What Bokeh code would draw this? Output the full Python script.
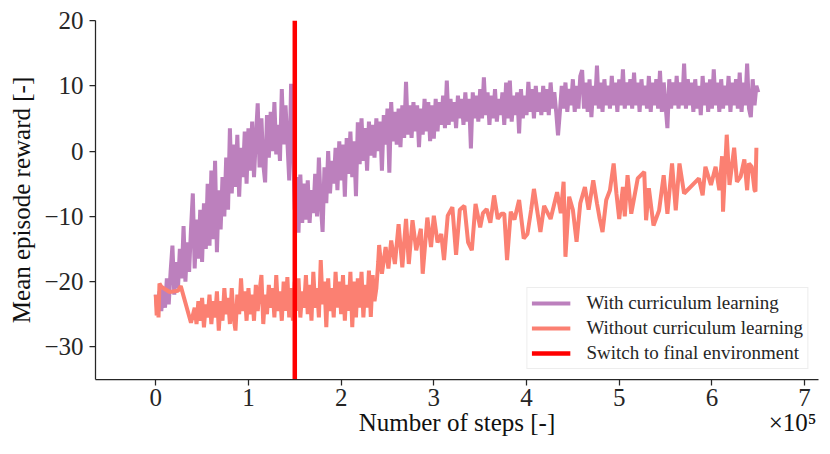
import numpy as np
from bokeh.plotting import figure
from bokeh.models import Range1d, FixedTicker, Legend, LegendItem, LinearAxis
from bokeh.embed import file_html
from bokeh.resources import INLINE

# ---------------- data (x in units of 10^5 steps) ----------------
with_interval = 0.02
with_reward = [
    -22.0, -25.0, -21.5, -24.5, -21.0, -24.0, -19.5, -23.5, -18.5, -14.5,
    -22.0, -17.0, -21.0, -15.0, -19.5, -11.5, -20.0, -14.0, -18.5, -12.0,
    -6.5, -18.0, -10.5, -16.5, -9.0, -17.0, -8.0, -15.0, -5.0, -14.5,
    -3.0, -13.5, -1.5, -15.5, -6.0, -12.0, -4.0, -10.0, -1.0, -9.0,
    3.5, -6.5, 1.0, -5.5, 2.5, -7.0, 0.5, -4.0, 3.0, -5.0,
    3.5, -3.0, 4.5, -4.0, 2.0, 7.3, -2.5, 5.0, -2.0, -4.8,
    5.5, -1.0, 6.0, 0.0, 7.5, -0.5, 4.0, -1.5, 9.5, 1.0,
    7.0, 1.5, -4.5, 10.3, 2.0, -9.0, -4.0, -12.5, -3.6, -11.0,
    -5.0, -10.5, -4.5, -11.0, -6.0, -9.5, -3.5, -10.0, -1.0, -8.0,
    -12.4, -2.5, -8.0, 0.0, -6.5, -1.5, -5.0, 0.5, -6.0, 1.5,
    -4.5, 1.0, -7.0, 2.0, -3.5, 3.0, -4.0, 1.5, -6.9, 4.4,
    -2.0, 5.0, -1.5, 3.5, -3.0, 4.5, -0.7, 4.0, -1.0, 5.0,
    0.0, 4.5, -3.0, 5.5, 1.0, 6.5, -3.3, 7.5, 1.5, 6.0,
    1.0, 6.5, 0.6, 7.0, 2.0, 10.6, 2.5, 7.0, 2.0, 7.5,
    3.0, 7.0, 0.6, 6.5, 2.5, 8.0, 3.0, 7.5, 1.5, 7.0,
    1.9, 8.0, 3.0, 7.5, 4.0, 8.5, 3.5, 10.8, 4.0, 8.0,
    4.5, 7.5, 3.5, 8.5, 5.0, 8.0, 4.0, 9.0, 4.5, 8.0,
    0.4, 9.0, 5.0, 8.5, 4.5, 9.5, 5.0, 11.3, 5.5, 9.0,
    4.0, 8.5, 5.0, 9.5, 4.5, 8.0, 5.5, 9.0, 4.0, 10.5,
    5.0, 10.8, 4.5, 8.5, 5.5, 9.0, 2.7, 9.5, 5.0, 8.5,
    5.5, 10.6, 6.0, 9.5, 5.0, 10.0, 6.0, 9.0, 5.5, 10.0,
    6.0, 9.5, 5.5, 10.5, 6.5, 9.0, 6.0, 2.4, 6.0, 10.0,
    6.5, 10.5, 6.0, 9.5, 7.0, 11.0, 6.0, 10.0, 6.5, 11.5,
    12.4, 6.5, 10.5, 6.0, 11.0, 5.2, 10.0, 7.0, 13.1, 6.5,
    10.5, 6.0, 11.0, 7.0, 10.0, 6.5, 11.5, 7.0, 10.5, 6.0,
    11.0, 7.0, 12.5, 6.5, 10.5, 7.0, 11.0, 6.5, 12.0, 7.0,
    10.5, 6.0, 11.0, 7.0, 10.0, 6.5, 11.5, 6.0, 10.5, 7.0,
    11.0, 6.5, 12.3, 6.0, 10.5, 7.0, 3.5, 11.0, 6.5, 10.5,
    7.0, 11.5, 6.5, 10.5, 7.0, 13.4, 6.5, 11.0, 7.0, 10.5,
    6.0, 11.0, 6.5, 10.0, 5.5, 11.5, 7.0, 10.5, 6.0, 11.0,
    6.5, 12.5, 7.0, 10.5, 6.0, 11.0, 6.5, 10.0, 7.0, 11.5,
    6.0, 10.5, 7.0, 11.0, 6.5, 12.0, 6.0, 10.5, 7.0, 13.4,
    6.5, 5.2, 11.0, 7.0, 10.0, 9.0,
]

without_early_steps = [0.0, 0.01, 0.02, 0.03, 0.04, 0.06, 0.15, 0.24, 0.27, 0.38]
without_early_reward = [-22.0, -25.2, -22.5, -25.5, -20.3, -20.8, -21.6, -21.4, -20.7, -26.3]

without_dense_start = 0.42
without_dense_interval = 0.02
without_dense_reward = [
    -24.0, -26.5, -23.0, -26.0, -22.5, -27.0, -23.5, -25.5, -22.0, -26.5,
    -23.0, -25.5, -21.5, -27.5, -23.0, -26.0, -21.0, -25.0, -22.5, -26.5,
    -21.0, -25.5, -27.5, -22.0, -25.0, -19.5, -24.5, -21.5, -26.0, -21.0,
    -25.0, -22.0, -26.0, -20.5, -24.5, -21.5, -19.0, -26.5, -22.0, -25.0,
    -20.5, -24.0, -21.0, -25.5, -19.0, -24.5, -21.5, -26.0, -20.0, -24.5,
    -19.3, -25.5, -21.0, -26.0, -20.0, -24.5, -19.5, -25.5, -21.5, -24.0,
    -19.0, -25.0, -20.5, -26.0, -18.5, -24.0, -21.0, -25.5, -16.7, -23.5,
    -20.0, -27.0, -19.5, -24.5, -21.0, -25.5, -18.5, -24.0, -20.0, -25.0,
    -19.0, -26.0, -20.5, -24.5, -18.5, -27.0, -20.0, -25.5, -19.5, -24.0,
    -18.5, -25.5, -20.5, -24.0, -18.3, -25.4, -19.0, -23.0, -21.0, -17.0,
]

without_sparse_steps = [
    2.41, 2.44, 2.48, 2.51, 2.54, 2.58, 2.62, 2.66, 2.70, 2.73,
    2.77, 2.81, 2.86, 2.88, 2.93, 2.97, 3.00, 3.04, 3.08, 3.11,
    3.15, 3.20, 3.24, 3.28, 3.33, 3.37, 3.41, 3.45, 3.50, 3.53,
    3.57, 3.61, 3.65, 3.69, 3.73, 3.76, 3.79, 3.83, 3.87, 3.92,
    3.97, 4.01, 4.05, 4.08, 4.15, 4.19, 4.26, 4.33, 4.37, 4.40,
    4.42, 4.46, 4.50, 4.54, 4.58, 4.63, 4.67, 4.72, 4.76, 4.79,
    4.82, 4.86, 4.90, 4.94, 4.97, 5.00, 5.04, 5.06, 5.09, 5.13,
    5.20, 5.27, 5.29, 5.32, 5.37, 5.43, 5.48, 5.52, 5.57, 5.61,
    5.65, 5.70, 5.86, 5.90, 5.93, 5.99, 6.04, 6.08, 6.11, 6.12,
    6.16, 6.19, 6.24, 6.27, 6.31, 6.35, 6.38, 6.40, 6.43, 6.46,
    6.47, 6.48,
]
without_sparse_reward = [
    -14.4, -18.8, -14.7, -18.0, -13.7, -17.3, -11.2, -17.8, -10.4, -17.3,
    -10.6, -15.2, -11.9, -18.8, -10.2, -14.7, -9.9, -14.0, -12.7, -16.7,
    -9.9, -8.6, -15.9, -9.0, -8.4, -14.0, -15.2, -8.1, -11.7, -9.5,
    -8.9, -11.0, -6.8, -10.4, -9.6, -9.6, -16.7, -9.3, -10.5, -7.5,
    -13.4, -12.7, -9.0, -5.8, -12.4, -8.4, -10.4, -6.3, -9.5, -4.7,
    -16.2, -7.0, -9.0, -13.9, -8.0, -5.5, -9.0, -4.5, -8.0, -10.4,
    -12.4, -7.5, -6.0, -1.9, -6.5, -10.4, -5.5, -10.0, -3.7, -9.6,
    -4.2, -3.2, -10.6, -5.7, -11.4, -9.1, -3.7, -9.6, -1.9, -9.1,
    -1.9, -6.5, -4.2, -6.8, -2.4, -5.2, -2.4, -6.0, -0.8, -9.3,
    2.5, -5.2, 0.5, -4.7, -3.9, -1.3, -6.0, -1.9, -2.4, -6.0,
    -6.2, 0.5,
]

switch_step = 1.5

x_limits = (-0.65, 7.15)
y_limits = (-35, 20)
x_ticks = [0, 1, 2, 3, 4, 5, 6, 7]
x_tick_labels = ["0", "1", "2", "3", "4", "5", "6", "7"]
y_ticks = [-30, -20, -10, 0, 10, 20]
y_tick_labels = ["\u221230", "\u221220", "\u221210", "0", "10", "20"]
x_title = "Number of steps [-]"
x_offset_text = "\u00d710\u2075"
x_title_pos = 3.25
x_offset_pos = 6.87

series_names = ["With curriculum learning", "Without curriculum learning",
                "Switch to final environment"]
colors = ["#bc80bd", "#fb8072", "#ff0000"]

# ---------------- derived arrays ----------------
with_steps = np.arange(len(with_reward)) * with_interval
without_dense_steps = without_dense_start + np.arange(len(without_dense_reward)) * without_dense_interval
without_steps = np.concatenate([without_early_steps, without_dense_steps, without_sparse_steps])
without_reward = np.concatenate([without_early_reward, without_dense_reward, without_sparse_reward])

FONT = "Liberation Serif"
TXT = "#262626"

p = figure(width=830, height=454, output_backend="svg", toolbar_location=None,
           x_range=Range1d(*x_limits), y_range=Range1d(*y_limits),
           min_border_left=95, min_border_right=12, min_border_top=20, min_border_bottom=75)
p.background_fill_color = "white"
p.border_fill_color = "white"
p.outline_line_color = None
p.xgrid.visible = False
p.ygrid.visible = False

r1 = p.line(with_steps, with_reward, line_color=colors[0], line_width=4)
r2 = p.line(without_steps, without_reward, line_color=colors[1], line_width=4)
r3 = p.line([switch_step, switch_step], [y_limits[0], y_limits[1]], line_color=colors[2], line_width=4.5)

for ax in (p.xaxis[0], p.yaxis[0]):
    ax.axis_line_color = TXT
    ax.axis_line_width = 1.25
    ax.major_tick_line_color = TXT
    ax.major_tick_line_width = 1.25
    ax.major_tick_out = 6
    ax.major_tick_in = 0
    ax.minor_tick_out = 0
    ax.minor_tick_in = 0
    ax.major_label_text_font = FONT
    ax.major_label_text_font_size = "25px"
    ax.major_label_text_color = TXT
    ax.axis_label_text_font = FONT
    ax.axis_label_text_font_size = "25px"
    ax.axis_label_text_font_style = "normal"
    ax.axis_label_text_color = "#111111"

p.xaxis.ticker = FixedTicker(ticks=x_ticks)
p.yaxis.ticker = FixedTicker(ticks=y_ticks)
p.xaxis.major_label_overrides = dict(zip(x_ticks, x_tick_labels))
p.yaxis.major_label_overrides = dict(zip(y_ticks, y_tick_labels))
p.yaxis.axis_label = "Mean episode reward [-]"
p.xaxis.major_label_standoff = 3
p.yaxis.major_label_standoff = 6
p.yaxis.axis_label_standoff = 6

# second row under the x axis: axis title (centred) and the x10^5 offset text
title_axis = LinearAxis(ticker=FixedTicker(ticks=[x_title_pos, x_offset_pos]),
                        major_label_overrides={x_title_pos: x_title, x_offset_pos: x_offset_text})
title_axis.axis_line_color = None
title_axis.major_tick_line_color = None
title_axis.minor_tick_line_color = None
title_axis.major_tick_out = 0
title_axis.major_tick_in = 0
title_axis.minor_tick_out = 0
title_axis.minor_tick_in = 0
title_axis.major_label_standoff = 0
title_axis.major_label_text_font = FONT
title_axis.major_label_text_font_size = "25px"
title_axis.major_label_text_color = "#111111"
p.add_layout(title_axis, "below")

legend = Legend(items=[LegendItem(label=series_names[0], renderers=[r1]),
                       LegendItem(label=series_names[1], renderers=[r2]),
                       LegendItem(label=series_names[2], renderers=[r3])],
                location="bottom_right")
legend.label_text_font = FONT
legend.label_text_font_size = "19px"
legend.label_text_color = TXT
legend.glyph_width = 39
legend.glyph_height = 22
legend.label_height = 22
legend.label_standoff = 16
legend.spacing = 3
legend.padding = 4
legend.margin = 10
legend.border_line_color = "#dcdcdc"
legend.border_line_width = 1
legend.background_fill_color = "white"
legend.background_fill_alpha = 0.8
p.add_layout(legend)

open("out.html", "w").write(file_html(p, INLINE))
